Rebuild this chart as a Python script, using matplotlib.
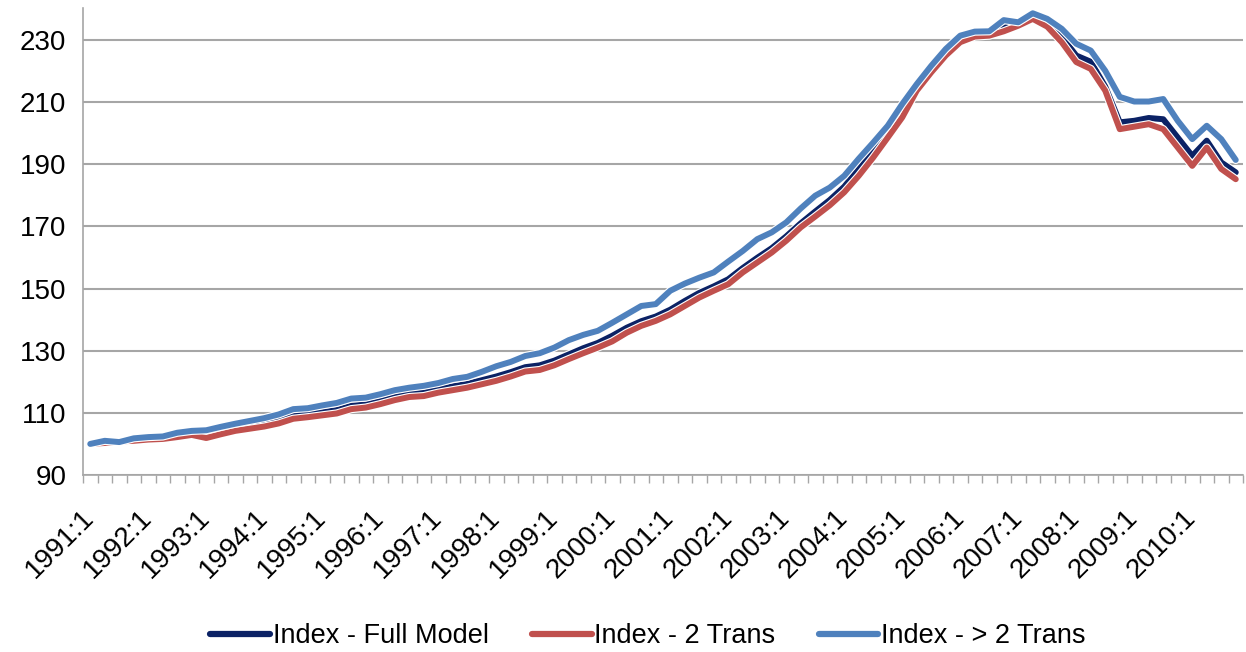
import matplotlib
matplotlib.use("Agg")
import matplotlib.pyplot as plt
import matplotlib.patheffects as pe
import numpy as np

# ---- data ----
years = list(range(1991, 2011))
quarters = [f"{y}:{q}" for y in years for q in range(1, 5)]

full_model = [100.0, 100.5, 100.7, 101.3, 101.7, 101.9, 102.7, 103.4, 103.0, 104.0,
              105.0, 105.8, 106.6, 107.6, 109.2, 109.6, 110.2, 110.9, 112.3, 112.7,
              113.8, 115.1, 116.1, 116.5, 117.6, 118.5, 119.3, 120.5, 121.7, 123.1,
              124.7, 125.3, 126.8, 128.8, 130.8, 132.5, 134.8, 137.4, 139.5, 141.0,
              143.2, 146.0, 148.6, 150.7, 153.0, 156.6, 159.9, 163.0, 166.8, 171.0,
              174.8, 178.5, 182.8, 188.5, 194.2, 200.4, 207.2, 214.7, 220.6, 226.0,
              230.2, 231.9, 232.0, 234.0, 235.0, 237.5, 235.5, 231.0, 225.0, 223.0,
              215.0, 203.5, 204.0, 204.9, 204.5, 198.6, 192.7, 197.6, 190.6, 187.4]

two_trans = [100.0, 100.3, 100.8, 101.0, 101.4, 101.6, 102.2, 102.9, 101.9, 103.1,
             104.2, 104.9, 105.6, 106.6, 108.1, 108.6, 109.2, 109.8, 111.2, 111.7,
             112.8, 114.1, 115.1, 115.4, 116.5, 117.3, 118.1, 119.2, 120.3, 121.7,
             123.3, 123.8, 125.3, 127.3, 129.2, 131.0, 133.0, 135.8, 138.0, 139.6,
             141.7, 144.4, 147.1, 149.3, 151.4, 155.2, 158.4, 161.6, 165.4, 169.7,
             173.2, 176.8, 181.0, 186.3, 192.2, 198.6, 205.1, 213.7, 219.6, 225.0,
             229.3, 231.1, 231.4, 232.8, 234.6, 236.8, 234.3, 229.3, 222.9, 220.7,
             213.7, 201.3, 202.1, 202.9, 201.3, 195.4, 189.5, 195.4, 188.5, 185.2]

more_trans = [100.0, 101.0, 100.6, 101.8, 102.2, 102.4, 103.6, 104.2, 104.4, 105.5,
              106.5, 107.4, 108.3, 109.5, 111.2, 111.5, 112.4, 113.2, 114.6, 114.9,
              116.0, 117.3, 118.1, 118.7, 119.6, 120.9, 121.6, 123.2, 125.0, 126.4,
              128.3, 129.2, 131.0, 133.4, 135.1, 136.4, 139.0, 141.7, 144.4, 145.0,
              149.3, 151.6, 153.5, 155.2, 158.7, 162.1, 165.9, 168.1, 171.3, 175.8,
              179.9, 182.5, 186.3, 191.8, 197.0, 202.4, 209.4, 215.8, 221.7, 227.1,
              231.4, 232.7, 232.8, 236.4, 235.7, 238.6, 236.8, 233.6, 228.8, 226.6,
              220.1, 211.7, 210.2, 210.2, 211.0, 204.0, 198.1, 202.4, 198.1, 191.4]

series_names = ["Index - Full Model", "Index - 2 Trans", "Index - > 2 Trans"]
series_colors = ["#0B2265", "#C0504D", "#4F81BD"]
y_ticks = [90, 110, 130, 150, 170, 190, 210, 230]

# ---- plot ----
plt.rcParams['font.family'] = ['Liberation Sans', 'DejaVu Sans']
fig = plt.figure(figsize=(12.46, 6.52), dpi=100)
ax = fig.add_axes([83 / 1246, 1 - 475 / 652, 1160 / 1246, 467 / 652])

x = np.arange(len(quarters))
lw = 4.3
for vals, name, col in zip([full_model, two_trans, more_trans], series_names, series_colors):
    ax.plot(x, vals, color=col, lw=lw, label=name, solid_joinstyle='round',
            solid_capstyle='round',
            path_effects=[pe.Stroke(linewidth=lw + 1.6, foreground='white'), pe.Normal()])

ax.set_xlim(-0.5, len(quarters) - 0.5)
ax.set_ylim(90, 240.3)
ax.set_yticks(y_ticks)
ax.set_yticklabels([str(v) for v in y_ticks], fontsize=20, color='#000000')
ax.yaxis.set_tick_params(length=0, pad=12)
ax.grid(axis='y', color='#A6A6A6', lw=1.5)
ax.set_axisbelow(True)

# x ticks: minor between categories, labels every 4 quarters
ax.set_xticks(np.arange(-0.5, len(quarters), 1.0), minor=True)
ax.tick_params(axis='x', which='minor', length=6, width=1, color='#A6A6A6')
label_idx = list(range(0, len(quarters), 4))
ax.set_xticks(label_idx)
ax.set_xticklabels([quarters[i] for i in label_idx], fontsize=20, rotation=45,
                   ha='right', va='center', rotation_mode='anchor')
ax.tick_params(axis='x', which='major', length=0, pad=28)

for s in ['top', 'right']:
    ax.spines[s].set_visible(False)
for s in ['left', 'bottom']:
    ax.spines[s].set_color('#A6A6A6')
    ax.spines[s].set_linewidth(1.2)

leg = fig.legend(loc='center', bbox_to_anchor=(648 / 1246, 1 - 636 / 652), ncol=3,
                 frameon=False, fontsize=19.5, handlelength=2.2, handletextpad=0.1,
                 columnspacing=1.6)
for h in leg.get_lines():
    h.set_linewidth(4.5)
    h.set_path_effects([])

fig.savefig("out.png", dpi=100)
